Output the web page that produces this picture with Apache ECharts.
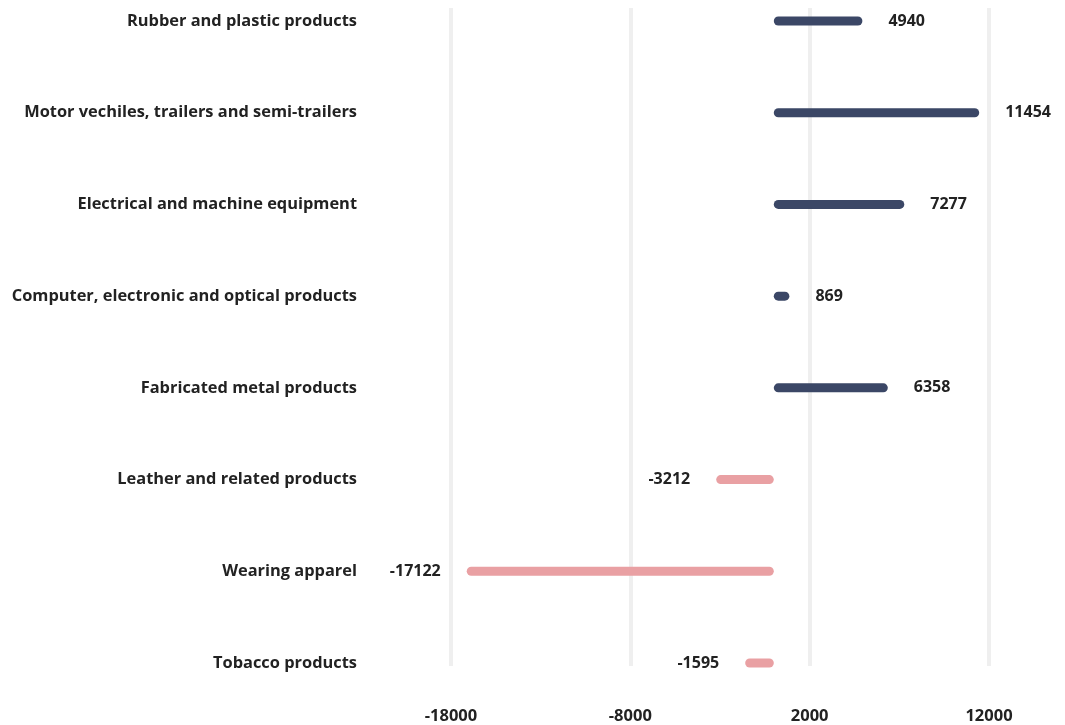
<!DOCTYPE html>
<html>
<head>
<meta charset="utf-8">
<script src="https://cdn.jsdelivr.net/npm/echarts@6/dist/echarts.min.js"></script>
<style>
html,body{margin:0;padding:0;background:#fff;}
#chart{width:1065px;height:725px;}
</style>
</head>
<body>
<div id="chart"></div>
<script>
const categories = [
  "Rubber and plastic products",
  "Motor vechiles, trailers and semi-trailers",
  "Electrical and machine equipment",
  "Computer, electronic and optical products",
  "Fabricated metal products",
  "Leather and related products",
  "Wearing apparel",
  "Tobacco products"
];
const values = [4940, 11454, 7277, 869, 6358, -3212, -17122, -1595];
const xTicks = [-18000, -8000, 2000, 12000];

const POS = '#3b4766', NEG = '#e9a0a3';
const FONT = 'Open Sans';
const chart = echarts.init(document.getElementById('chart'));
chart.setOption({
  animation: false,
  backgroundColor: '#fff',
  grid: [
    {left: 451, right: 76, top: 21, bottom: 62, containLabel: false},
    {left: 451, right: 76, top: 8, bottom: 57, containLabel: false}
  ],
  xAxis: [
    {gridIndex: 0, type: 'value', min: xTicks[0], max: xTicks[xTicks.length-1], interval: 10000,
     axisLine: {show: false}, axisTick: {show: false}, axisLabel: {show: false}, splitLine: {show: false}},
    {gridIndex: 1, type: 'value', min: xTicks[0], max: xTicks[xTicks.length-1], interval: 10000,
     axisLine: {show: false}, axisTick: {show: false},
     axisLabel: {show: true, margin: 42, color: '#222', fontFamily: FONT, fontWeight: 'bold', fontSize: 16.5,
                 formatter: v => String(v)},
     splitLine: {show: true, lineStyle: {color: '#efefef', width: 4}}}
  ],
  yAxis: [
    {gridIndex: 0, type: 'category', data: categories, inverse: true, boundaryGap: false,
     axisLine: {show: false}, axisTick: {show: false}, splitLine: {show: false},
     axisLabel: {margin: 94, color: '#222', fontFamily: FONT, fontWeight: 'bold', fontSize: 16.4,
                 padding: [3, 0, 0, 0]}},
    {gridIndex: 1, type: 'value', show: false}
  ],
  series: [{
    type: 'bar',
    xAxisIndex: 0, yAxisIndex: 0,
    barWidth: 9,
    data: values.map(v => ({
      value: v,
      itemStyle: {color: v >= 0 ? POS : NEG, borderRadius: 4.5},
      label: {position: v >= 0 ? 'right' : 'left'}
    })),
    label: {show: true, distance: 26, color: '#222', fontFamily: FONT, fontWeight: 'bold', fontSize: 16}
  }]
});
</script>
</body>
</html>
